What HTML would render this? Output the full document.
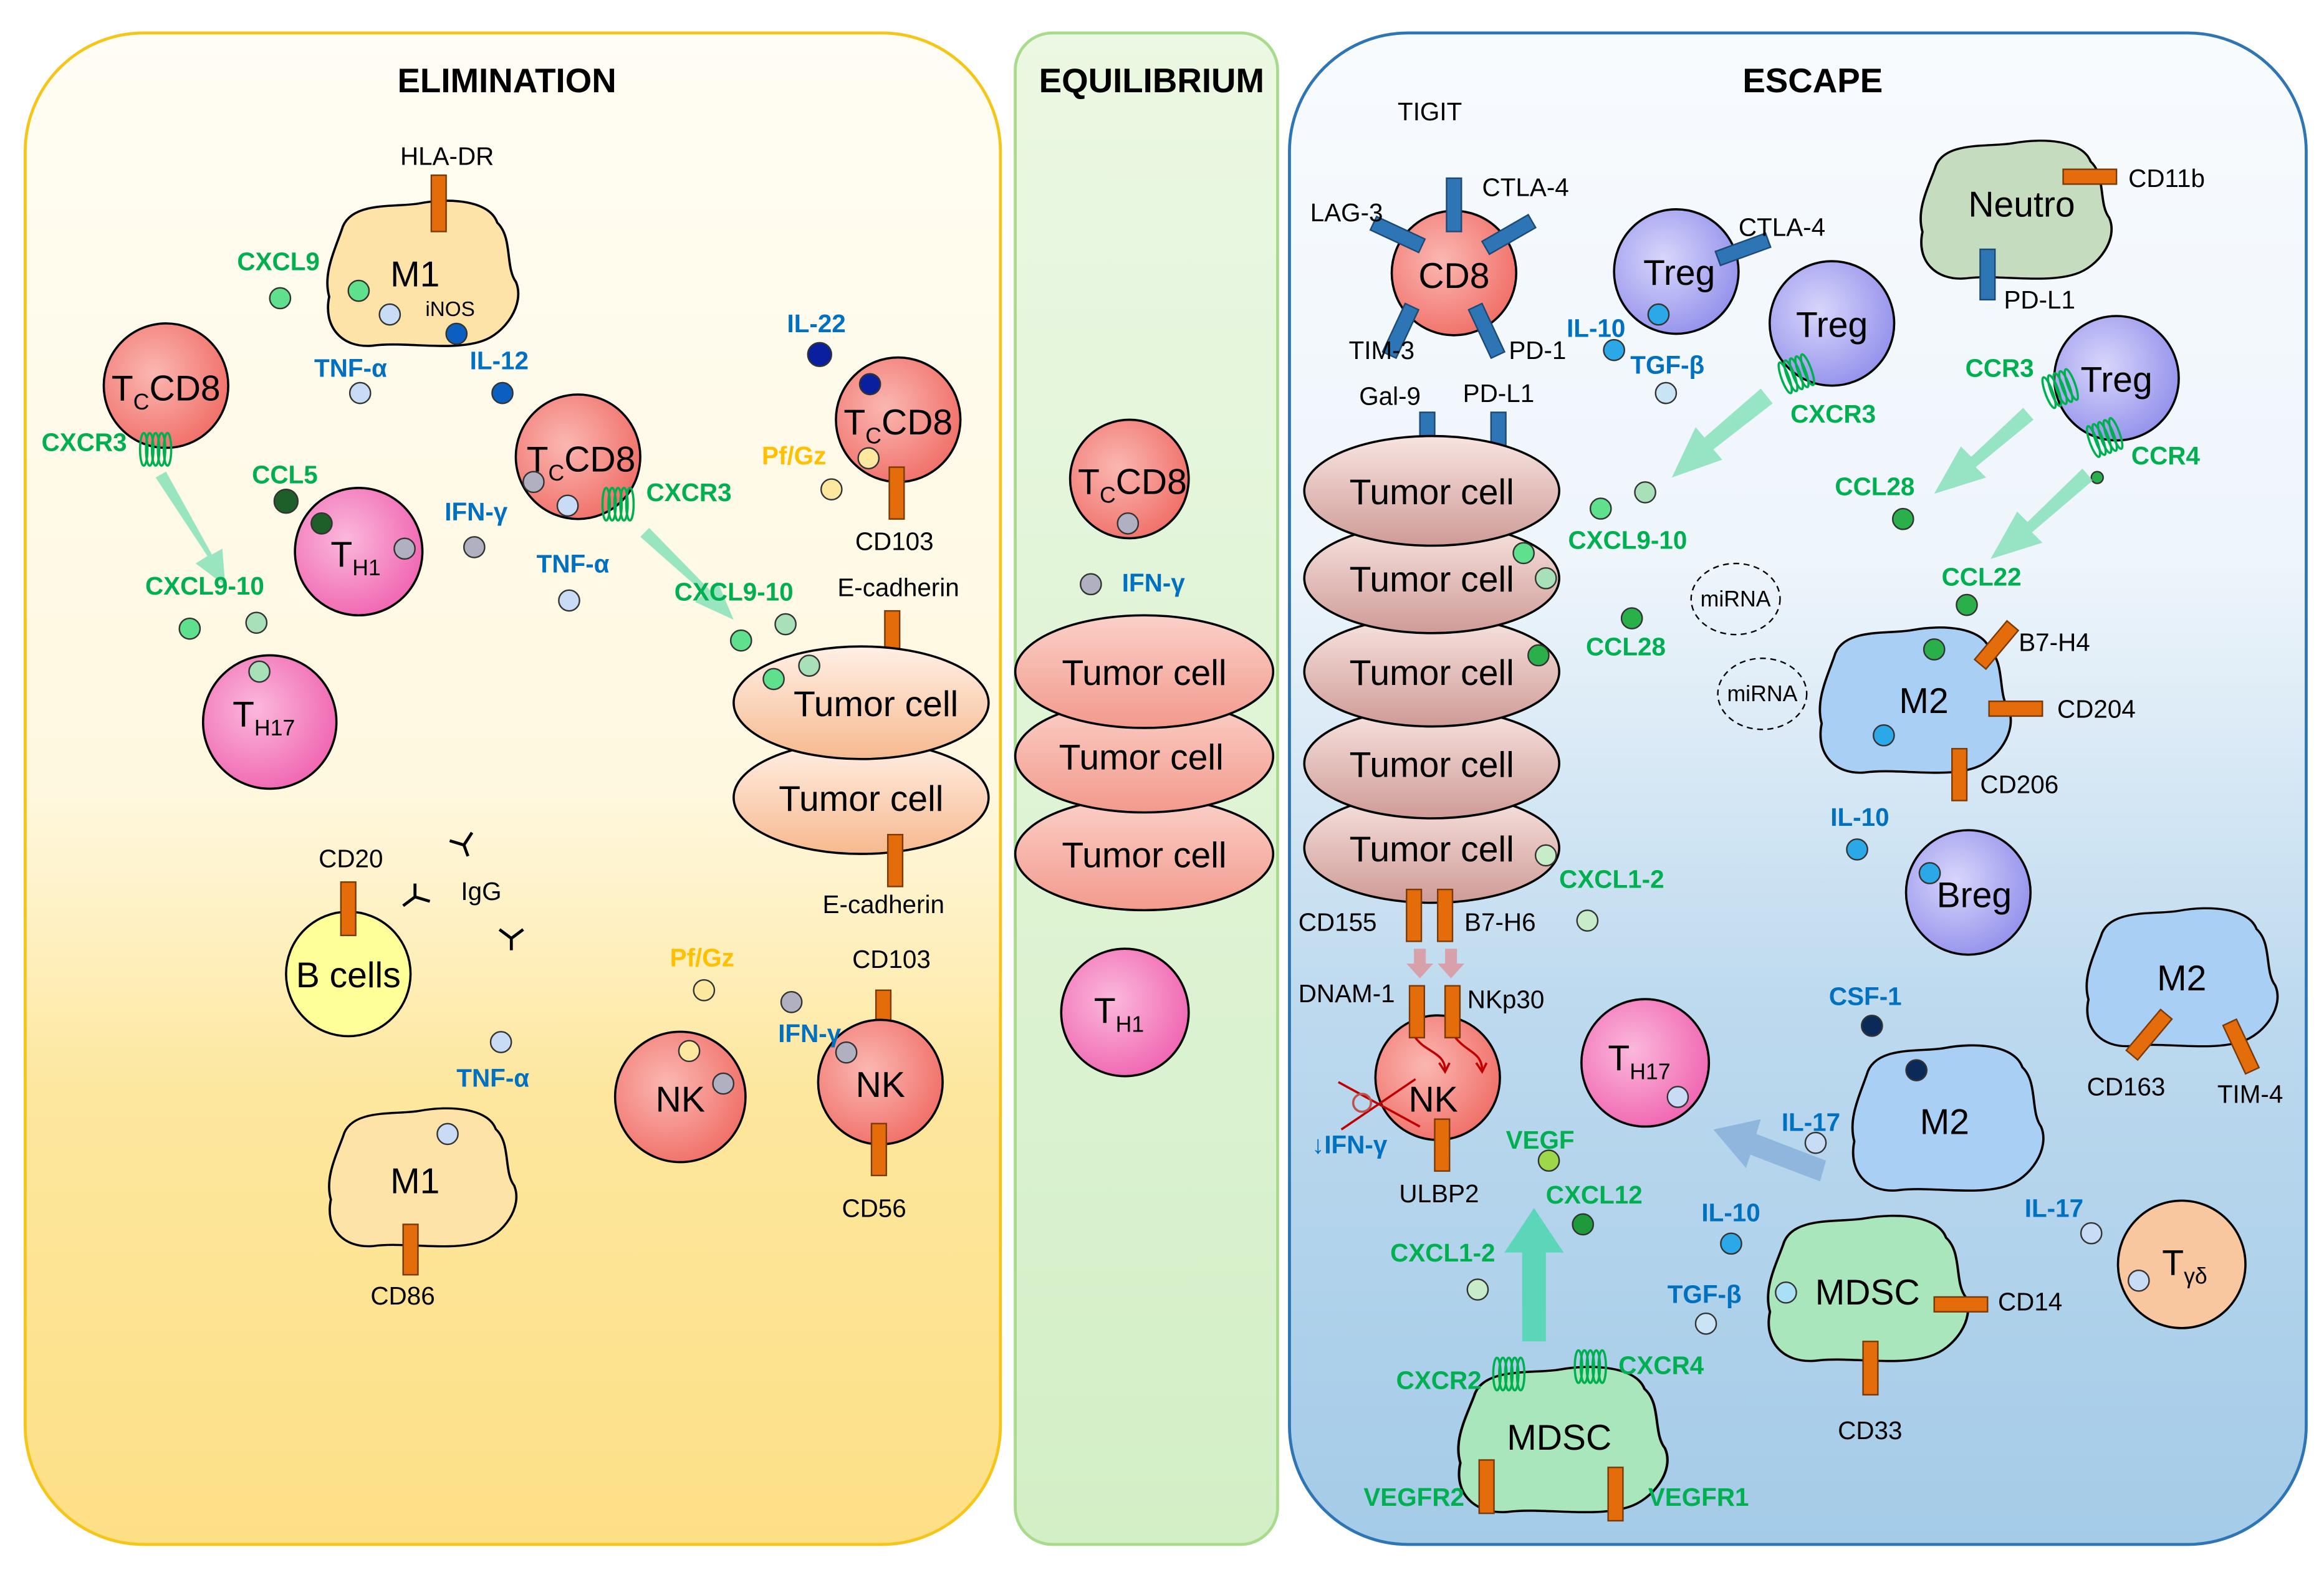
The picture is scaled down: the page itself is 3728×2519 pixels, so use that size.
<!DOCTYPE html>
<html><head><meta charset="utf-8"><style>
html,body{margin:0;padding:0;background:#fff;}
svg{display:block;}
text{font-family:"Liberation Sans",sans-serif;}
.t{font-size:17px;fill:#000;}
.g{font-size:17px;fill:#00b050;font-weight:bold;}
.b{font-size:17px;fill:#0070c0;font-weight:bold;}
.y{font-size:17px;fill:#ffc000;font-weight:bold;}
.c{font-size:24px;fill:#000;text-anchor:middle;}
.h{font-size:23px;font-weight:bold;text-anchor:middle;fill:#000;}
.cell{stroke:#000;stroke-width:1.5;}
.ro{fill:#e46c0a;stroke:#7a3a06;stroke-width:1;}
.rb{fill:#2e75b6;stroke:#1c4a75;stroke-width:1;}
.d{stroke:#333;stroke-width:1;}
</style></head><body>
<svg width="3728" height="2519" viewBox="0 0 1568 1059" xmlns="http://www.w3.org/2000/svg">
<defs>
<linearGradient id="gE" x1="0" y1="0" x2="0" y2="1"><stop offset="0" stop-color="#fffdf4"/><stop offset="0.5" stop-color="#fff8e0"/><stop offset="0.7" stop-color="#fde79e"/><stop offset="1" stop-color="#fddf86"/></linearGradient>
<linearGradient id="gQ" x1="0" y1="0" x2="0" y2="1"><stop offset="0" stop-color="#ebf8e3"/><stop offset="1" stop-color="#d3efc6"/></linearGradient>
<linearGradient id="gS" x1="0" y1="0" x2="0" y2="1"><stop offset="0" stop-color="#f8fbfe"/><stop offset="0.35" stop-color="#eef5fb"/><stop offset="0.65" stop-color="#bcd9ee"/><stop offset="1" stop-color="#a4cbe8"/></linearGradient>
<radialGradient id="red" cx="0.4" cy="0.4" r="0.7"><stop offset="0" stop-color="#fbb7b2"/><stop offset="1" stop-color="#ef6a62"/></radialGradient>
<radialGradient id="pink" cx="0.4" cy="0.4" r="0.7"><stop offset="0" stop-color="#fbb8dc"/><stop offset="1" stop-color="#ef5fae"/></radialGradient>
<radialGradient id="pur" cx="0.4" cy="0.4" r="0.7"><stop offset="0" stop-color="#d8d6fb"/><stop offset="1" stop-color="#8e8cea"/></radialGradient>
<linearGradient id="tum" x1="0" y1="0" x2="0" y2="1"><stop offset="0" stop-color="#fff0e6"/><stop offset="1" stop-color="#f6b98f"/></linearGradient>
<linearGradient id="tum2" x1="0" y1="0" x2="0" y2="1"><stop offset="0" stop-color="#f8e4e0"/><stop offset="1" stop-color="#cf9b97"/></linearGradient>
<linearGradient id="tumq" x1="0" y1="0" x2="0" y2="1"><stop offset="0" stop-color="#fbd0c8"/><stop offset="1" stop-color="#f29a8c"/></linearGradient>
<path id="blob" d="M-50,-30 C-45,-50 -15,-45 0,-48 C20,-52 45,-50 50,-35 C60,-25 55,-5 62,5 C68,20 55,40 40,45 C20,52 -10,45 -30,48 C-50,50 -62,35 -58,15 C-62,0 -55,-15 -50,-30 Z"/>
<g id="spring" fill="none" stroke="#00b050" stroke-width="1.5"><ellipse cx="-8" cy="0" rx="2.5" ry="11"/><ellipse cx="-4" cy="0" rx="2.5" ry="11"/><ellipse cx="0" cy="0" rx="2.5" ry="11"/><ellipse cx="4" cy="0" rx="2.5" ry="11"/><ellipse cx="8" cy="0" rx="2.5" ry="11"/></g>
</defs>

<rect x="17" y="22" width="658" height="1020" rx="80" fill="url(#gE)" stroke="#f5c518" stroke-width="2"/>
<rect x="685" y="22" width="177" height="1020" rx="25" fill="url(#gQ)" stroke="#a8dc8c" stroke-width="2"/>
<rect x="870" y="22" width="686" height="1020" rx="80" fill="url(#gS)" stroke="#2e75b6" stroke-width="2"/>
<text x="342" y="62" class="h">ELIMINATION</text>
<text x="777" y="62" class="h">EQUILIBRIUM</text>
<text x="1223" y="62" class="h">ESCAPE</text>

<!-- ELIMINATION -->
<text x="270" y="111" class="t">HLA-DR</text>
<use href="#blob" transform="translate(283,185) scale(1.05,1)" fill="#fde3a7" class="cell"/>
<rect class="ro" x="291" y="118" width="10" height="38"/>
<text x="280" y="193" class="c">M1</text>
<text x="287" y="213" class="t" style="font-size:14px">iNOS</text>
<circle cx="242" cy="196" r="7" fill="#5fe08c" class="d"/>
<circle cx="263" cy="212" r="7" fill="#c8dcf5" class="d"/>
<circle cx="308" cy="225" r="7" fill="#0a5fc0" class="d"/>
<text x="160" y="182" class="g">CXCL9</text><circle cx="189" cy="201" r="7" fill="#5fe08c" class="d"/>
<text x="212" y="254" class="b">TNF-α</text><circle cx="243" cy="265" r="7" fill="#c8dcf5" class="d"/>
<text x="317" y="249" class="b">IL-12</text><circle cx="339" cy="265" r="7" fill="#0a5fc0" class="d"/>

<circle cx="112" cy="260" r="42" fill="url(#red)" class="cell"/>
<text x="112" y="270" class="c">T<tspan style="font-size:15px" dy="6">C</tspan><tspan dy="-6">CD8</tspan></text>
<text x="28" y="304" class="g">CXCR3</text>
<use href="#spring" x="105" y="303"/>
<path d="M105,322 L140,375 L132,380 L152,395 L150,370 L143,374 L112,318Z" fill="#7fe0b5" opacity="0.8"/>
<text x="98" y="401" class="g">CXCL9-10</text>
<circle cx="128" cy="424" r="7" fill="#5fe08c" class="d"/><circle cx="173" cy="420" r="7" fill="#a8e0b8" class="d"/>
<text x="170" y="326" class="g">CCL5</text><circle cx="193" cy="338" r="8" fill="#1e5e28" class="d"/>
<circle cx="242" cy="372" r="43" fill="url(#pink)" class="cell"/>
<text x="240" y="382" class="c">T<tspan style="font-size:15px" dy="6">H1</tspan></text>
<circle cx="217" cy="353" r="7" fill="#1e5e28" class="d"/><circle cx="273" cy="370" r="7" fill="#b0b0c0" class="d"/>
<circle cx="182" cy="487" r="45" fill="url(#pink)" class="cell"/>
<text x="178" y="490" class="c">T<tspan style="font-size:15px" dy="6">H17</tspan></text>
<circle cx="175" cy="453" r="7" fill="#a8e0b8" class="d"/>

<circle cx="390" cy="308" r="42" fill="url(#red)" class="cell"/>
<text x="392" y="318" class="c">T<tspan style="font-size:15px" dy="6">C</tspan><tspan dy="-6">CD8</tspan></text>
<circle cx="360" cy="325" r="7" fill="#b0b0c0" class="d"/><circle cx="383" cy="341" r="7" fill="#c8dcf5" class="d"/>
<use href="#spring" x="417" y="340"/>
<text x="436" y="338" class="g">CXCR3</text>
<text x="300" y="351" class="b">IFN-γ</text><circle cx="320" cy="369" r="7" fill="#b0b0c0" class="d"/>
<text x="362" y="386" class="b">TNF-α</text><circle cx="384" cy="405" r="7" fill="#c8dcf5" class="d"/>
<path d="M432,362 L475,400 L469,406 L495,418 L484,392 L479,398 L438,356Z" fill="#7fe0b5" opacity="0.8"/>
<text x="455" y="405" class="g">CXCL9-10</text>
<circle cx="500" cy="432" r="7" fill="#5fe08c" class="d"/><circle cx="530" cy="421" r="7" fill="#a8e0b8" class="d"/>

<text x="531" y="224" class="b">IL-22</text><circle cx="553" cy="239" r="8" fill="#0a1fa0" class="d"/>
<circle cx="606" cy="283" r="42" fill="url(#red)" class="cell"/>
<text x="606" y="293" class="c">T<tspan style="font-size:15px" dy="6">C</tspan><tspan dy="-6">CD8</tspan></text>
<circle cx="587" cy="259" r="7" fill="#0a1fa0" class="d"/><circle cx="586" cy="309" r="7" fill="#fde8a0" class="d"/>
<rect class="ro" x="600" y="315" width="10" height="35"/>
<text x="577" y="371" class="t">CD103</text>
<text x="514" y="313" class="y">Pf/Gz</text><circle cx="561" cy="330" r="7" fill="#fde8a0" class="d"/>
<text x="565" y="402" class="t">E-cadherin</text>
<rect class="ro" x="597" y="412" width="10" height="34"/>
<ellipse cx="581" cy="538" rx="86" ry="38" fill="url(#tum)" class="cell"/>
<text x="581" y="547" class="c">Tumor cell</text>
<ellipse cx="581" cy="474" rx="86" ry="38" fill="url(#tum)" class="cell"/>
<text x="591" y="483" class="c">Tumor cell</text>
<circle cx="546" cy="449" r="7" fill="#a8e0b8" class="d"/><circle cx="522" cy="458" r="7" fill="#5fe08c" class="d"/>
<rect class="ro" x="599" y="563" width="10" height="35"/>
<text x="555" y="616" class="t">E-cadherin</text>

<text x="215" y="585" class="t">CD20</text>
<circle cx="235" cy="657" r="42" fill="#ffff99" class="cell"/>
<rect class="ro" x="230" y="595" width="10" height="36"/>
<text x="235" y="666" class="c">B cells</text>
<text x="311" y="607" class="t">IgG</text>
<g stroke="#000" stroke-width="2" fill="none">
<path d="M313,570 L313,578 M313,570 L305,564 M313,570 L321,564" transform="rotate(-20 313 570)"/>
<path d="M280,605 L272,611 M280,605 L280,596 M280,605 L290,608"/>
<path d="M345,633 L345,641 M345,633 L337,627 M345,633 L353,627"/>
</g>
<text x="308" y="733" class="b">TNF-α</text><circle cx="338" cy="703" r="7" fill="#c8dcf5" class="d"/>
<use href="#blob" transform="translate(283,795) scale(1.03,0.95)" fill="#fde3a7" class="cell"/>
<text x="280" y="805" class="c">M1</text>
<circle cx="302" cy="765" r="7" fill="#c8dcf5" class="d"/>
<rect class="ro" x="272" y="826" width="10" height="34"/>
<text x="250" y="880" class="t">CD86</text>

<text x="452" y="652" class="y">Pf/Gz</text><circle cx="475" cy="668" r="7" fill="#fde8a0" class="d"/>
<circle cx="459" cy="740" r="44" fill="url(#red)" class="cell"/>
<text x="459" y="750" class="c">NK</text>
<circle cx="465" cy="709" r="7" fill="#fde8a0" class="d"/><circle cx="488" cy="731" r="7" fill="#b0b0c0" class="d"/>
<text x="575" y="653" class="t">CD103</text>
<rect class="ro" x="591" y="668" width="10" height="34"/>
<circle cx="594" cy="730" r="42" fill="url(#red)" class="cell"/>
<text x="594" y="740" class="c">NK</text>
<text x="525" y="703" class="b">IFN-γ</text><circle cx="534" cy="676" r="7" fill="#b0b0c0" class="d"/>
<circle cx="571" cy="710" r="7" fill="#b0b0c0" class="d"/>
<rect class="ro" x="588" y="758" width="10" height="35"/>
<text x="568" y="821" class="t">CD56</text>

<!-- EQUILIBRIUM -->
<circle cx="762" cy="323" r="40" fill="url(#red)" class="cell"/>
<text x="764" y="333" class="c">T<tspan style="font-size:15px" dy="6">C</tspan><tspan dy="-6">CD8</tspan></text>
<circle cx="761" cy="353" r="7" fill="#b0b0c0" class="d"/>
<circle cx="736" cy="394" r="7" fill="#b0b0c0" class="d"/>
<text x="757" y="399" class="b">IFN-γ</text>
<ellipse cx="772" cy="576" rx="87" ry="38" fill="url(#tumq)" class="cell"/>
<text x="772" y="585" class="c">Tumor cell</text>
<ellipse cx="772" cy="510" rx="87" ry="38" fill="url(#tumq)" class="cell"/>
<text x="770" y="519" class="c">Tumor cell</text>
<ellipse cx="772" cy="453" rx="87" ry="38" fill="url(#tumq)" class="cell"/>
<text x="772" y="462" class="c">Tumor cell</text>
<circle cx="759" cy="683" r="43" fill="url(#pink)" class="cell"/>
<text x="755" y="690" class="c">T<tspan style="font-size:15px" dy="6">H1</tspan></text>

<!-- ESCAPE -->
<text x="943" y="81" class="t">TIGIT</text>
<circle cx="981" cy="184" r="42" fill="url(#red)" class="cell"/>
<rect class="rb" x="976" y="120" width="10" height="36"/>
<rect class="rb" x="925" y="153" width="36" height="10" transform="rotate(25 943 158)"/>
<rect class="rb" x="1000" y="153" width="36" height="10" transform="rotate(-30 1018 158)"/>
<rect class="rb" x="940" y="205" width="10" height="36" transform="rotate(25 945 223)"/>
<rect class="rb" x="998" y="205" width="10" height="36" transform="rotate(-25 1003 223)"/>
<text x="981" y="194" class="c">CD8</text>
<text x="884" y="149" class="t">LAG-3</text>
<text x="1000" y="132" class="t">CTLA-4</text>
<text x="910" y="242" class="t">TIM-3</text>
<text x="1018" y="242" class="t">PD-1</text>
<text x="917" y="273" class="t">Gal-9</text>
<text x="987" y="271" class="t">PD-L1</text>
<rect class="rb" x="958" y="278" width="10" height="34"/>
<rect class="rb" x="1006" y="278" width="10" height="34"/>
<ellipse cx="966" cy="572" rx="86" ry="37" fill="url(#tum2)" class="cell"/>
<text x="966" y="581" class="c">Tumor cell</text>
<ellipse cx="966" cy="515" rx="86" ry="37" fill="url(#tum2)" class="cell"/>
<text x="966" y="524" class="c">Tumor cell</text>
<ellipse cx="966" cy="453" rx="86" ry="37" fill="url(#tum2)" class="cell"/>
<text x="966" y="462" class="c">Tumor cell</text>
<ellipse cx="966" cy="390" rx="86" ry="37" fill="url(#tum2)" class="cell"/>
<text x="966" y="399" class="c">Tumor cell</text>
<ellipse cx="966" cy="331" rx="86" ry="37" fill="url(#tum2)" class="cell"/>
<text x="966" y="340" class="c">Tumor cell</text>
<circle cx="1028" cy="373" r="7" fill="#5fe08c" class="d"/><circle cx="1043" cy="390" r="7" fill="#a8e0b8" class="d"/>
<circle cx="1038" cy="442" r="7" fill="#2ab04a" class="d"/><circle cx="1043" cy="577" r="7" fill="#c8ecc8" class="d"/>
<rect class="ro" x="949" y="600" width="10" height="35"/>
<rect class="ro" x="970" y="600" width="10" height="35"/>
<text x="876" y="628" class="t">CD155</text>
<text x="988" y="628" class="t">B7-H6</text>
<g fill="#d8a0a8"><path d="M954,640 h8 v10 h5 l-9,10 l-9,-10 h5z"/><path d="M975,640 h8 v10 h5 l-9,10 l-9,-10 h5z"/></g>
<text x="876" y="676" class="t">DNAM-1</text>
<text x="990" y="680" class="t">NKp30</text>
<circle cx="970" cy="727" r="42" fill="url(#red)" class="cell"/>
<rect class="ro" x="951" y="665" width="10" height="35"/>
<rect class="ro" x="975" y="665" width="10" height="35"/>
<text x="967" y="750" class="c">NK</text>
<g stroke="#c00000" stroke-width="1.5" fill="none">
<path d="M955,700 C962,710 975,710 975,722"/><path d="M971,717 l4,6 l3,-6"/>
<path d="M982,700 C990,710 1000,710 1000,722"/><path d="M996,717 l4,6 l3,-6"/>
<path d="M903,730 L958,760 M905,762 L955,728"/>
<circle cx="919" cy="744" r="6" stroke="#c05050"/>
</g>
<text x="885" y="778" class="b">↓IFN-γ</text>
<rect class="ro" x="968" y="755" width="10" height="35"/>
<text x="944" y="811" class="t">ULBP2</text>

<text x="1057" y="227" class="b">IL-10</text><circle cx="1089" cy="236" r="7" fill="#2aa8e8" class="d"/>
<text x="1100" y="252" class="b">TGF-β</text><circle cx="1124" cy="265" r="7" fill="#c8e4f5" class="d"/>
<circle cx="1131" cy="183" r="42" fill="url(#pur)" class="cell"/>
<rect class="rb" x="1158" y="163" width="36" height="10" transform="rotate(-20 1176 168)"/>
<text x="1133" y="192" class="c">Treg</text>
<circle cx="1119" cy="212" r="7" fill="#2aa8e8" class="d"/>
<text x="1173" y="159" class="t">CTLA-4</text>
<circle cx="1236" cy="218" r="42" fill="url(#pur)" class="cell"/>
<text x="1236" y="227" class="c">Treg</text>
<use href="#spring" transform="translate(1212,252) rotate(-20)"/>
<text x="1208" y="285" class="g">CXCR3</text>
<path d="M1188,262 L1150,295 L1144,288 L1128,322 L1162,310 L1156,303 L1196,272Z" fill="#7fe0b5" opacity="0.8"/>
<circle cx="1080" cy="343" r="7" fill="#5fe08c" class="d"/><circle cx="1110" cy="332" r="7" fill="#a8e0b8" class="d"/>
<text x="1058" y="370" class="g">CXCL9-10</text>
<ellipse cx="1171" cy="404" rx="30" ry="24" fill="none" stroke="#000" stroke-dasharray="4,3"/>
<text x="1171" y="409" class="t" text-anchor="middle" style="font-size:15px">miRNA</text>
<ellipse cx="1189" cy="468" rx="30" ry="24" fill="none" stroke="#000" stroke-dasharray="4,3"/>
<text x="1189" y="473" class="t" text-anchor="middle" style="font-size:15px">miRNA</text>
<circle cx="1101" cy="417" r="7" fill="#2ab04a" class="d"/>
<text x="1070" y="442" class="g">CCL28</text>

<use href="#blob" transform="translate(1358,142) scale(1.05,0.95)" fill="#c5dcbf" class="cell"/>
<text x="1364" y="146" class="c">Neutro</text>
<rect class="ro" x="1392" y="114" width="36" height="10"/>
<text x="1436" y="126" class="t">CD11b</text>
<rect class="rb" x="1336" y="168" width="10" height="34"/>
<text x="1352" y="208" class="t">PD-L1</text>
<circle cx="1428" cy="255" r="42" fill="url(#pur)" class="cell"/>
<text x="1428" y="264" class="c">Treg</text>
<use href="#spring" transform="translate(1390,262) rotate(-20)"/>
<text x="1326" y="254" class="g">CCR3</text>
<use href="#spring" transform="translate(1420,295) rotate(-20)"/>
<text x="1438" y="313" class="g">CCR4</text>
<circle cx="1415" cy="322" r="4" fill="#2ab04a" class="d"/>
<path d="M1365,275 L1330,308 L1323,301 L1305,333 L1340,322 L1333,315 L1372,283Z" fill="#7fe0b5" opacity="0.8"/>
<path d="M1405,316 L1368,352 L1361,345 L1343,377 L1378,366 L1371,359 L1412,324Z" fill="#7fe0b5" opacity="0.8"/>
<text x="1238" y="334" class="g">CCL28</text><circle cx="1284" cy="350" r="7" fill="#2ab04a" class="d"/>
<text x="1310" y="395" class="g">CCL22</text><circle cx="1327" cy="408" r="7" fill="#2ab04a" class="d"/>
<use href="#blob" transform="translate(1290,473) scale(1.05,1)" fill="#a9cff5" class="cell"/>
<text x="1298" y="481" class="c">M2</text>
<circle cx="1305" cy="438" r="7" fill="#2ab04a" class="d"/><circle cx="1271" cy="496" r="7" fill="#2aa8e8" class="d"/>
<rect class="ro" x="1342" y="418" width="10" height="34" transform="rotate(40 1347 435)"/>
<text x="1362" y="439" class="t">B7-H4</text>
<rect class="ro" x="1342" y="473" width="36" height="10"/>
<text x="1388" y="484" class="t">CD204</text>
<rect class="ro" x="1317" y="505" width="10" height="35"/>
<text x="1336" y="535" class="t">CD206</text>
<text x="1235" y="557" class="b">IL-10</text><circle cx="1253" cy="573" r="7" fill="#2aa8e8" class="d"/>
<circle cx="1328" cy="602" r="42" fill="url(#pur)" class="cell"/>
<text x="1332" y="612" class="c">Breg</text>
<circle cx="1302" cy="589" r="7" fill="#2aa8e8" class="d"/>
<text x="1052" y="599" class="g">CXCL1-2</text><circle cx="1071" cy="621" r="7" fill="#c8ecc8" class="d"/>

<use href="#blob" transform="translate(1470,660) scale(1.05,0.95)" fill="#a9cff5" class="cell"/>
<text x="1472" y="668" class="c">M2</text>
<rect class="ro" x="1445" y="680" width="10" height="36" transform="rotate(40 1450 698)"/>
<rect class="ro" x="1507" y="688" width="10" height="36" transform="rotate(-25 1512 706)"/>
<text x="1408" y="739" class="t">CD163</text>
<text x="1496" y="744" class="t">TIM-4</text>
<text x="1234" y="678" class="b">CSF-1</text><circle cx="1263" cy="692" r="7" fill="#0b2a5a" class="d"/>
<circle cx="1110" cy="717" r="43" fill="url(#pink)" class="cell"/>
<text x="1106" y="722" class="c">T<tspan style="font-size:15px" dy="6">H17</tspan></text>
<circle cx="1132" cy="740" r="7" fill="#c8dcf5" class="d"/>
<use href="#blob" transform="translate(1312,755) scale(1.05,1)" fill="#a9cff5" class="cell"/>
<text x="1312" y="765" class="c">M2</text>
<circle cx="1293" cy="722" r="7" fill="#0b2a5a" class="d"/>
<text x="1202" y="763" class="b">IL-17</text><circle cx="1225" cy="771" r="7" fill="#c8dcf5" class="d"/>
<path d="M1232,783 L1185,765 L1188,755 L1156,762 L1178,788 L1181,779 L1228,797Z" fill="#8fb6dc"/>
<text x="1016" y="775" class="g">VEGF</text><circle cx="1045" cy="783" r="7" fill="#9cd84a" class="d"/>
<text x="1043" y="812" class="g">CXCL12</text><circle cx="1068" cy="826" r="7" fill="#1f9a3a" class="d"/>
<text x="1148" y="824" class="b">IL-10</text><circle cx="1168" cy="839" r="7" fill="#2aa8e8" class="d"/>
<use href="#blob" transform="translate(1258,870) scale(1.1,1)" fill="#a9e6bc" class="cell"/>
<text x="1260" y="880" class="c">MDSC</text>
<circle cx="1205" cy="872" r="7" fill="#a9e0f5" class="d"/>
<rect class="ro" x="1305" y="875" width="36" height="10"/>
<text x="1348" y="884" class="t">CD14</text>
<rect class="ro" x="1257" y="905" width="10" height="36"/>
<text x="1240" y="971" class="t">CD33</text>
<text x="1366" y="821" class="b">IL-17</text><circle cx="1411" cy="832" r="7" fill="#c8dcf5" class="d"/>
<circle cx="1472" cy="853" r="43" fill="#f8c7a0" class="cell"/>
<text x="1474" y="860" class="c">T<tspan style="font-size:15px" dy="6">γδ</tspan></text>
<circle cx="1443" cy="864" r="7" fill="#c8dcf5" class="d"/>
<text x="1125" y="879" class="b">TGF-β</text><circle cx="1151" cy="893" r="7" fill="#c8e4f5" class="d"/>
<text x="938" y="851" class="g">CXCL1-2</text><circle cx="997" cy="870" r="7" fill="#c8ecc8" class="d"/>
<path d="M1027,905 L1027,845 L1015,845 L1035,815 L1055,845 L1043,845 L1043,905Z" fill="#5cd6b8"/>
<use href="#blob" transform="translate(1052,972) scale(1.15,1)" fill="#a9e6bc" class="cell"/>
<text x="1052" y="978" class="c">MDSC</text>
<use href="#spring" x="1018" y="927"/>
<use href="#spring" x="1073" y="922"/>
<text x="942" y="937" class="g">CXCR2</text>
<text x="1092" y="927" class="g">CXCR4</text>
<rect class="ro" x="998" y="985" width="10" height="36"/>
<rect class="ro" x="1085" y="990" width="10" height="36"/>
<text x="920" y="1016" class="g">VEGFR2</text>
<text x="1112" y="1016" class="g">VEGFR1</text>
</svg>
</body></html>
